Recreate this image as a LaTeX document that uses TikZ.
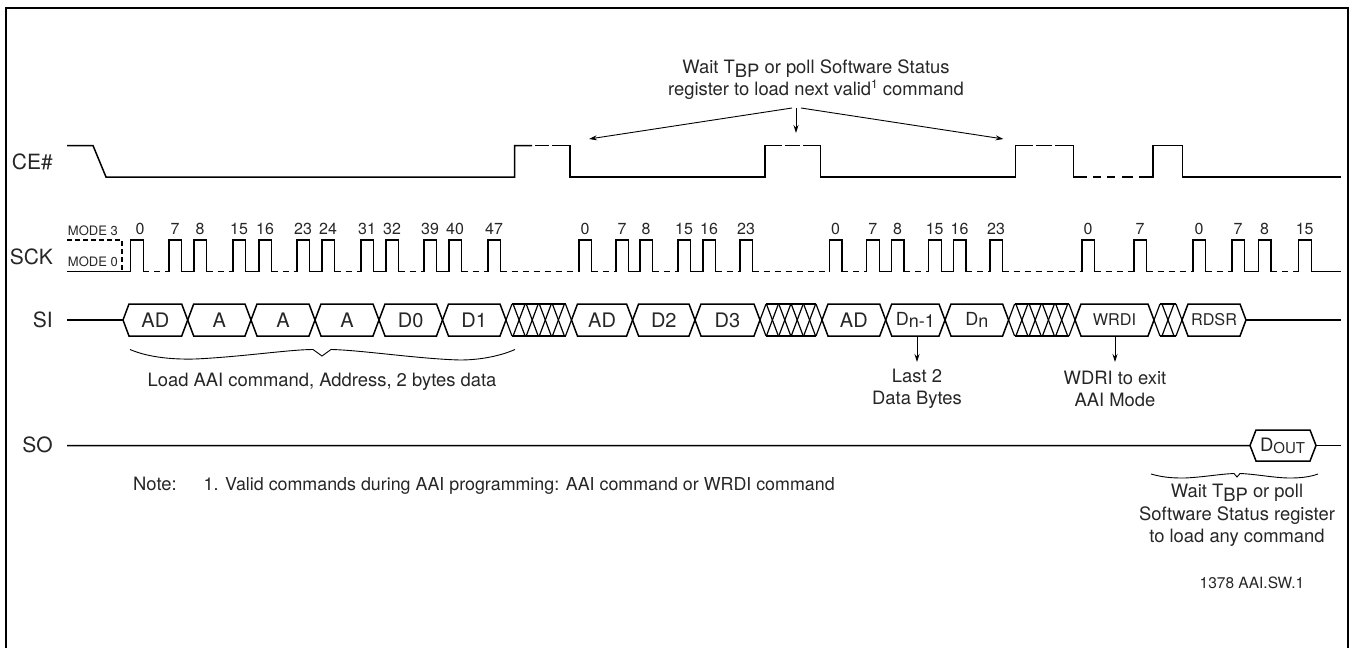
\documentclass[tikz,border=0pt]{standalone}
\usepackage{fontspec}
\setmainfont{TeX Gyre Heros}
\usetikzlibrary{arrows.meta}
\usetikzlibrary{calc}
\tikzset{
	wave/.style={line width=1.5pt},
	gap/.style={line width=1.5pt,dash pattern=on 6pt off 5pt},
	thin line/.style={line width=0.9pt},
	note/.style={inner sep=0pt,text=black!85,font=\fontsize{18.4}{22.5}\selectfont,align=center},
	sig/.style={inner sep=0pt,text=black!85,font=\fontsize{21}{25}\selectfont},
	word/.style={inner sep=0pt,text=black!85,font=\fontsize{20}{24}\selectfont},
	small word/.style={inner sep=0pt,text=black!85,font=\fontsize{16.2}{20}\selectfont},
	num/.style={inner sep=0pt,text=black!85,font=\fontsize{16}{19}\selectfont},
	mode/.style={inner sep=0pt,text=black!85,font=\fontsize{13}{16}\selectfont},
	tip/.style={line width=0.9pt,-{Stealth[length=8pt,width=5pt]}}
}
% one clock pulse, #1 = rising edge
\newcommand{\drawpulse}[1]{
	\draw[wave] (#1,271.5) -- (#1,240) -- ++(12.7,0) -- ++(0,31.5);
}
% one labelled bus word between two crossings
\newcommand{\drawword}[5]{
	\draw[wave] (#1,320) -- ++(6,-16) -- ($(#2,304)+(-6,0)$) -- (#2,320) -- ++(-6,16) -- ($(#1,336)+(6,0)$) -- cycle;
	\draw ($(#1,320)!0.5!(#2,320)$) node (#3) [#4] {#5};
}
% crossed bus, #3 = number of hops
\newcommand{\drawcross}[3]{
	\pgfmathsetmacro{\hop}{(#2-#1)/#3}
	\draw[thin line,line width=1.2pt] (#1,320) ++(6,-16) -- ($(#2,304)+(-6,0)$) (#1,336) ++(6,0) -- ($(#2,336)+(-6,0)$);
	\foreach \i in {1,...,#3} {
		\draw[thin line,line width=1.2pt] ({#1+(\i-1)*\hop},320) -- ++(6,-16) ({#1+(\i-1)*\hop},320) -- ++(6,16);
		\draw[thin line,line width=1.2pt] ({#1+\i*\hop},320) -- ++(-6,-16) ({#1+\i*\hop},320) -- ++(-6,16);
	}
}
\begin{document}
\begin{tikzpicture}[x=1pt,y=-1pt]
	\useasboundingbox (0,0) rectangle (1350,648);
	\draw[line width=2.2pt] (6,648) -- (6,8) -- (1347.8,8) -- (1347.8,648);
	\foreach \t/\y/\n in {CE\#/162/ce,SCK/257/sck,SI/320/si,SO/445/so} {
		\draw (53,\y) node (\n) [sig,anchor=east] {\t};
	}
	% CE#
	\draw[wave] (67,145.5) -- (93,145.5) -- (106,177) -- (514.5,177) -- (514.5,145.5) -- (532,145.5);
	\draw[wave] (552,145.5) -- (570,145.5) -- (570,177) -- (765,177) -- (765,145.5) -- (782,145.5);
	\draw[wave] (803,145.5) -- (820.5,145.5) -- (820.5,177) -- (1015.5,177) -- (1015.5,145.5) -- (1033,145.5);
	\draw[wave] (1055,145.5) -- (1073.5,145.5) -- (1073.5,177) -- (1087,177);
	\draw[wave] (1139,177) -- (1153,177) -- (1153,145.5) -- (1182.5,145.5) -- (1182.5,177) -- (1341,177);
	\draw[wave] (535,145.5) -- (549,145.5) (785,145.5) -- (800,145.5) (1036,145.5) -- (1052,145.5);
	\draw[wave] (1093,177) -- (1101,177) (1107,177) -- (1115,177) (1122,177) -- (1133,177);
	% SCK
	\draw[wave,dash pattern=on 5pt off 3pt,line width=1.2pt] (67,240) -- (122,240) -- (122,272);
	\draw (118,231) node (m3) [mode,anchor=east] {MODE 3};
	\draw (118,262) node (m0) [mode,anchor=east] {MODE 0};
	\draw[wave] (67,271.5) -- (130.7,271.5);
	\drawpulse{130.7}
	\draw (140,229) node (cfirst) [num] {0};
	\foreach \x/\l in {169/7,194/8,233/15,259/16,297/23,322/24,361/31,386/32,424/39,449/40,488/47,
		579/0,616/7,640/8,678/15,703/16,740/23,829.5/0,866.7/7,891.5/8,928.7/15,953.5/16,990/23,
		1082/0,1134/7,1193/0,1232/7,1258.5/8,1298.7/15} {
		\drawpulse{\x}
		\draw (\x+6,229) node (c\x) [num] {\l};
	}
	\foreach \a/\b in {169/194,233/259,297/322,361/386,424/449,866.7/891.5,928.7/953.5,1232/1258.5,616/640,678/703} {
		\draw[wave] (\a+12.7,271.5) -- (\b,271.5);
	}
	\foreach \a/\b in {130.7/169,194/233,259/297,322/361,386/424,449/488,488/579,579/616,640/678,703/740,740/829.5,
		829.5/866.7,891.5/928.7,953.5/990,990/1082,1082/1134,1134/1193,1193/1232,1258.5/1298.7} {
		\draw[gap] (\a+12.7,271.5) -- (\b,271.5);
	}
	\draw[wave] (1311.4,271.5) -- (1341,271.5);
	% SI
	\draw[wave] (67,320) -- (123,320);
	\drawword{123}{187.7}{w0}{word}{AD}
	\drawword{187.7}{251}{w1}{word}{A}
	\drawword{251}{315}{w2}{word}{A}
	\drawword{315}{379}{w3}{word}{A}
	\drawword{379}{442.5}{w4}{word}{D0}
	\drawword{442.5}{506}{w5}{word}{D1}
	\drawcross{506}{571.5}{5}
	\drawword{571.5}{632.6}{w6}{word}{AD}
	\drawword{632.6}{695}{w7}{word}{D2}
	\drawword{695}{760}{w8}{word}{D3}
	\drawcross{760}{822}{5}
	\drawword{822}{885.7}{w9}{word}{AD}
	\drawword{885.7}{945}{w10}{small word}{\fontsize{18}{20}\selectfont D\raisebox{-2pt}{n-1}}
	\drawword{945}{1008.6}{w11}{small word}{\fontsize{18}{20}\selectfont D\raisebox{-2pt}{n}}
	\drawcross{1008.6}{1075}{5}
	\drawword{1075}{1154}{w12}{small word}{WRDI}
	\drawcross{1154}{1182}{2}
	\drawword{1182}{1246}{w13}{small word}{RDSR}
	\draw[wave] (1246,320) -- (1341,320);
	% SO
	\draw[wave] (67,445.5) -- (1250,445.5) -- ++(6,-15.5) -- (1310,430) -- (1316,445.5) -- (1310,461) -- (1256,461) -- (1250,445.5);
	\draw[wave] (1316,445.5) -- (1341,445.5);
	\draw (1282.5,446) node (dout) [word,font=\fontsize{18.5}{22}\selectfont] {D\raisebox{-2.5pt}{\fontsize{15}{18}\selectfont OUT}};
	% notes
	\draw (816,79.5) node (wait) [note] {Wait T\raisebox{-4pt}{BP} or poll Software Status\\register to load next valid\raisebox{7pt}{\fontsize{12}{14}\selectfont 1} command};
	\coordinate (wl) at (589,139);
	\coordinate (wm) at (796,133);
	\coordinate (wr) at (1003.5,139);
	\draw[tip] (792,108) -- (wl);
	\draw[tip] (796,108) -- (wm);
	\draw[tip] (801,108) -- (wr);
	\draw[thin line] (130,349.5) .. controls (150,358) and (175,359.5) .. (195,359) .. controls (240,357) and (290,349.5) .. (313,349.5) -- (322,356) -- (331,349.5) .. controls (360,350) and (420,359) .. (460,360) .. controls (485,360) and (505,354) .. (515,349.5);
	\draw (322,382) node (load) [note] {Load AAI command, Address, 2 bytes data};
	\draw (917,389) node (last) [note] {Last 2\\Data Bytes};
	\coordinate (lastend) at (917,362);
	\draw[tip] (917,337) -- (lastend);
	\draw (1115,389) node (exit) [note] {WDRI to exit\\AAI Mode};
	\coordinate (exitend) at (1115,362);
	\draw[tip] (1115,337) -- (exitend);
	\draw (133,486) node (nt) [note,anchor=west] {Note:\hspace{27pt}\fontsize{17.85}{22}\selectfont 1. Valid commands during AAI programming: AAI command or WRDI command};
	\draw[thin line] (1151,474) .. controls (1165,478) and (1175,478) .. (1185,478) .. controls (1205,477) and (1220,474) .. (1234,473.5) -- (1237,477) -- (1240,473.5) .. controls (1255,474) and (1275,478) .. (1290,478) .. controls (1300,478) and (1310,477) .. (1318,474);
	\draw (1237,515.5) node (any) [note] {Wait T\raisebox{-4pt}{BP} or poll\\Software Status register\\to load any command};
	\draw (1252,583) node (fig) [inner sep=0pt,text=black!85,font=\fontsize{15.5}{18}\selectfont] {1378 AAI.SW.1};
\end{tikzpicture}
\end{document}
